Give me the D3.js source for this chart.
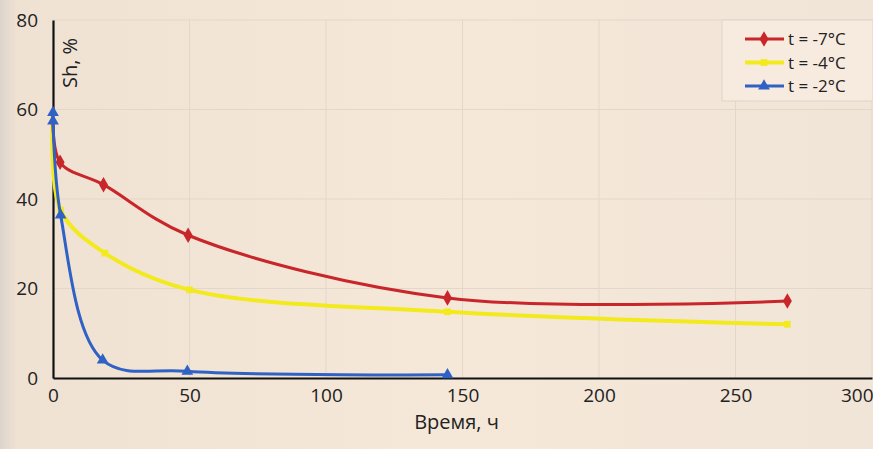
<!DOCTYPE html>
<html>
<head>
<meta charset="utf-8">
<script src="https://cdn.jsdelivr.net/npm/d3@7"></script>
<style>
  body { margin: 0; background: #f3e7d8; }
  svg { display: block; }
  .tick text { font-family: "Liberation Sans Narrow", "Open Sans", sans-serif; font-size: 19px; fill: #222; }
  .lbl { font-family: "Open Sans", sans-serif; fill: #222; }
</style>
</head>
<body>
<div id="chart"></div>
<script>
// values: [hours, Sh %]
const seriesNames = ["t = -7°C", "t = -4°C", "t = -2°C"];
const seriesColors = ["#c8262b", "#f2ea1c", "#2f62c4"];
const pointsMinus7 = [[0, 60], [2.6, 48.2], [18.5, 43.2], [49.5, 31.9], [144.5, 17.9], [269, 17.2]];
const pointsMinus4 = [[0, 60], [2.8, 37.5], [19, 27.9], [50, 19.7], [144.5, 14.8], [269, 12]];
const pointsMinus2 = [[0, 59.3], [0, 57.4], [2.8, 36.4], [18.2, 4], [49.2, 1.5], [144.5, 0.7]];
const xTicks = [0, 50, 100, 150, 200, 250, 300];
const yTicks = [0, 20, 40, 60, 80];

const width = 873;
const height = 449;
const margin = {top: 20, right: 1, bottom: 71, left: 53};

const svg = d3.select("#chart").append("svg")
    .attr("width", width)
    .attr("height", height);

// paper tint
const grad = svg.append("defs").append("linearGradient")
    .attr("id", "paper").attr("x1", 0).attr("x2", 1).attr("y1", 0).attr("y2", 0);
grad.append("stop").attr("offset", "0").attr("stop-color", "#dcd5cd");
grad.append("stop").attr("offset", "0.02").attr("stop-color", "#f0e2d3");
grad.append("stop").attr("offset", "0.5").attr("stop-color", "#f5e8d8");
grad.append("stop").attr("offset", "1").attr("stop-color", "#f1e5d8");
svg.append("rect").attr("width", width).attr("height", height).attr("fill", "url(#paper)");

const x = d3.scaleLinear().domain([0, 300]).range([margin.left, width - margin.right]);
const y = d3.scaleLinear().domain([0, 80]).range([height - margin.bottom, margin.top]);

// grid
svg.append("g").selectAll("line")
    .data(yTicks.filter(d => d > 0))
    .join("line")
    .attr("x1", x(0)).attr("x2", x(300))
    .attr("y1", d => y(d)).attr("y2", d => y(d))
    .attr("stroke", "#e2d7cb").attr("stroke-width", 1);
svg.append("g").selectAll("line")
    .data(xTicks.filter(d => d > 0))
    .join("line")
    .attr("x1", d => x(d)).attr("x2", d => x(d))
    .attr("y1", y(0)).attr("y2", y(80))
    .attr("stroke", "#e2d7cb").attr("stroke-width", 1);

// axes
const gx = svg.append("g")
    .attr("transform", `translate(0,${y(0)})`)
    .call(d3.axisBottom(x).tickValues(xTicks).tickSize(0).tickPadding(11));
const gy = svg.append("g")
    .attr("transform", `translate(${x(0)},0)`)
    .call(d3.axisLeft(y).tickValues(yTicks).tickSize(0).tickPadding(15));
gx.select(".domain").attr("stroke", "#111").attr("stroke-width", 2.2);
gy.select(".domain").attr("stroke", "#111").attr("stroke-width", 2.2);
// last label sits against the right edge of the page
gx.selectAll(".tick text").filter(d => d === 300).attr("text-anchor", "end").attr("dx", 1);

svg.append("text").attr("class", "lbl")
    .attr("x", x(150) - 6).attr("y", 429)
    .attr("text-anchor", "middle")
    .style("font-size", "20px")
    .text("Время, ч");

svg.append("text").attr("class", "lbl")
    .attr("transform", `translate(77,63) rotate(-90)`)
    .attr("text-anchor", "middle")
    .style("font-size", "20px")
    .text("Sh, %");

// series
const allSeries = [pointsMinus7, pointsMinus4, pointsMinus2];
const symbols = [d3.symbolDiamond, d3.symbolSquare, d3.symbolTriangle];
const symbolSizes = [70, 45, 60];
const widths = [3, 4, 3];

const line = d3.line()
    .x(d => x(d[0]))
    .y(d => y(d[1]))
    .curve(d3.curveCatmullRom.alpha(0.5));

// draw yellow first, then red, then blue on top
[1, 0, 2].forEach(i => {
    svg.append("path")
        .datum(allSeries[i])
        .attr("d", line)
        .attr("fill", "none")
        .attr("stroke", seriesColors[i])
        .attr("stroke-width", widths[i])
        .attr("stroke-linejoin", "round");
    svg.append("g").selectAll("path")
        .data(allSeries[i].slice(i === 2 ? 0 : 1))
        .join("path")
        .attr("transform", d => `translate(${x(d[0])},${y(d[1])})`)
        .attr("d", d3.symbol().type(symbols[i]).size(symbolSizes[i]))
        .attr("fill", seriesColors[i]);
});

// legend
const legend = svg.append("g").attr("transform", "translate(722,20)");
legend.append("rect")
    .attr("width", 151).attr("height", 81)
    .attr("fill", "#f6ebde")
    .attr("stroke", "#ddd3c7");
seriesNames.forEach((name, i) => {
    const ly = 19 + i * 23.5;
    legend.append("line")
        .attr("x1", 23).attr("x2", 62)
        .attr("y1", ly).attr("y2", ly)
        .attr("stroke", seriesColors[i])
        .attr("stroke-width", widths[i]);
    legend.append("path")
        .attr("transform", `translate(42,${ly})`)
        .attr("d", d3.symbol().type(symbols[i]).size(symbolSizes[i]))
        .attr("fill", seriesColors[i]);
    legend.append("text").attr("class", "lbl")
        .attr("x", 66).attr("y", ly + 6)
        .style("font-size", "17px")
        .text(name);
});
</script>
</body>
</html>
